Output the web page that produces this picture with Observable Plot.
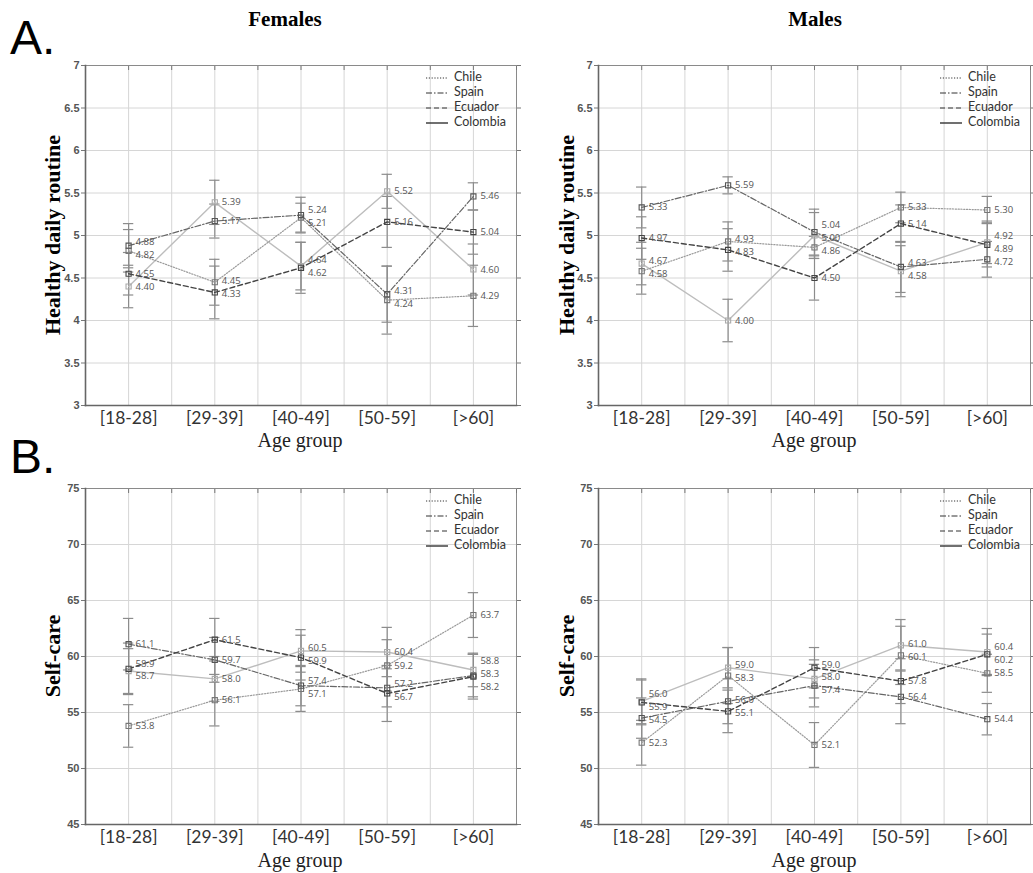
<!DOCTYPE html>
<html><head><meta charset="utf-8">
<script src="https://cdn.jsdelivr.net/npm/d3@7"></script>
<script src="https://cdn.jsdelivr.net/npm/@observablehq/plot@0.6"></script>
<style>
body{margin:0;background:#fff;}
#root{position:relative;width:1033px;height:873px;overflow:hidden;}
.abs{position:absolute;white-space:nowrap;}
.big{font-family:"Liberation Sans",Arial,sans-serif;font-size:48px;color:#000;line-height:1;}
.title{font-family:"Liberation Serif","Times New Roman",serif;font-weight:bold;font-size:21px;color:#000;transform:translateX(-50%);}
.ylab{font-family:"Liberation Serif","Times New Roman",serif;font-weight:bold;font-size:22px;color:#000;transform:translate(-50%,-50%) rotate(-90deg);}
.xlab{font-family:"Liberation Serif","Times New Roman",serif;font-size:20px;line-height:1;color:#222;transform:translateX(-50%);}
.leg{font-family:Lato,"Open Sans",sans-serif;font-size:12.5px;color:#333;}
svg.plot{position:absolute;}
</style></head>
<body><div id="root"></div>
<script>
// ---------- data ----------
const ages = ["[18-28]", "[29-39]", "[40-49]", "[50-59]", "[>60]"];
const countries = ["Chile", "Spain", "Ecuador", "Colombia"];

// A. Healthy daily routine – Females
const fRoutineChile    = [4.82, 4.45, 5.21, 4.24, 4.29];
const fRoutineSpain    = [4.88, 5.17, 5.24, 4.31, 5.46];
const fRoutineEcuador  = [4.55, 4.33, 4.62, 5.16, 5.04];
const fRoutineColombia = [4.40, 5.39, 4.64, 5.52, 4.60];
const fRoutineChileErr    = [0.25, 0.27, 0.17, 0.40, 0.36];
const fRoutineSpainErr    = [0.26, 0.20, 0.21, 0.33, 0.16];
const fRoutineEcuadorErr  = [0.25, 0.31, 0.30, 0.30, 0.26];
const fRoutineColombiaErr = [0.25, 0.26, 0.28, 0.20, 0.30];

// A. Healthy daily routine – Males
const mRoutineChile    = [4.58, 4.93, 4.86, 5.33, 5.30];
const mRoutineSpain    = [5.33, 5.59, 5.04, 4.63, 4.72];
const mRoutineEcuador  = [4.97, 4.83, 4.50, 5.14, 4.89];
const mRoutineColombia = [4.67, 4.00, 5.00, 4.58, 4.92];
const mRoutineChileErr    = [0.27, 0.23, 0.13, 0.18, 0.16];
const mRoutineSpainErr    = [0.24, 0.10, 0.27, 0.30, 0.21];
const mRoutineEcuadorErr  = [0.25, 0.25, 0.26, 0.22, 0.26];
const mRoutineColombiaErr = [0.25, 0.25, 0.27, 0.30, 0.25];

// B. Self-care – Females
const fSelfChile    = [53.8, 56.1, 57.1, 59.2, 63.7];
const fSelfSpain    = [61.1, 59.7, 57.4, 57.2, 58.3];
const fSelfEcuador  = [58.9, 61.5, 59.9, 56.7, 58.2];
const fSelfColombia = [58.7, 58.0, 60.5, 60.4, 58.8];
const fSelfChileErr    = [1.9, 2.3, 2.0, 2.3, 2.0];
const fSelfSpainErr    = [2.3, 2.0, 1.8, 1.7, 1.9];
const fSelfEcuadorErr  = [2.3, 1.9, 2.0, 2.5, 2.0];
const fSelfColombiaErr = [2.0, 2.0, 1.9, 2.2, 1.5];

// B. Self-care – Males
const mSelfChile    = [52.3, 58.3, 52.1, 60.1, 58.5];
const mSelfSpain    = [54.5, 56.0, 57.4, 56.4, 54.4];
const mSelfEcuador  = [55.9, 55.1, 59.0, 57.8, 60.2];
const mSelfColombia = [56.0, 59.0, 58.0, 61.0, 60.4];
const mSelfChileErr    = [2.0, 2.5, 2.0, 2.6, 1.7];
const mSelfSpainErr    = [1.8, 2.0, 1.9, 2.4, 1.4];
const mSelfEcuadorErr  = [2.0, 1.9, 1.8, 2.0, 1.8];
const mSelfColombiaErr = [2.0, 1.8, 1.7, 2.3, 2.1];

const routineTicks = [3, 3.5, 4, 4.5, 5, 5.5, 6, 6.5, 7];
const selfTicks = [45, 50, 55, 60, 65, 70, 75];

// ---------- styles per country ----------
const styles = {
  Chile:    {stroke: "#9a9a9a", dash: "1.2,1.6", width: 1.2, marker: "#777"},
  Spain:    {stroke: "#666",    dash: "6,2,1.5,2", width: 1.2, marker: "#555"},
  Ecuador:  {stroke: "#444",    dash: "5,3", width: 1.4, marker: "#444"},
  Colombia: {stroke: "#bdbdbd", dash: null, width: 1.4, marker: "#aaa"}
};

const PLOT_H = 340; // inner plot height in px (same for all panels)

function build(values, errs, span) {
  const rows = [];
  countries.forEach((c, k) => {
    values[k].forEach((v, i) => {
      rows.push({country: c, i, age: ages[i], v, lo: v - errs[k][i], hi: v + errs[k][i], labelY: v});
    });
  });
  // nudge value labels apart where they would sit on top of each other
  const ppu = PLOT_H / span, gap = 13;
  for (let i = 0; i < ages.length; i++) {
    const g = rows.filter(d => d.i === i).sort((a, b) => b.v - a.v);
    const px = g.map(d => -d.v * ppu);
    for (let iter = 0; iter < 60; iter++) {
      let moved = false;
      for (let j = 1; j < g.length; j++) {
        const diff = px[j] - px[j - 1];
        if (diff < gap - 0.01) {
          const push = (gap - diff) / 2;
          px[j - 1] -= push; px[j] += push; moved = true;
        }
      }
      if (!moved) break;
    }
    g.forEach((d, j) => { d.labelY = -px[j] / ppu; });
  }
  return rows;
}

const root = document.getElementById("root");

function panel({rows, ticks, digits, left, top, width, height, mL, mR}) {
  const half = d3.range(-0.5, 4.51, 0.5);
  const marks = [
    Plot.gridX(half, {stroke: "#d6d6d6", strokeOpacity: 1}),
    Plot.gridY(ticks, {stroke: "#d6d6d6", strokeOpacity: 1}),
    Plot.frame({stroke: "#8a8a8a"}),
    Plot.axisY(ticks, {anchor: "left", tickSize: 4, tickPadding: 2, stroke: "#777", fill: "#555",
      fontSize: 11, fontWeight: "bold", label: null, tickFormat: d => String(d)}),
    Plot.axisY(ticks, {anchor: "right", tickSize: 4, tickFormat: () => "", stroke: "#777", label: null}),
    Plot.axisX(half, {anchor: "top", tickSize: -4, tickFormat: () => "", stroke: "#777", label: null}),
    Plot.axisX(d3.range(ages.length), {anchor: "bottom", tickSize: 0, tickPadding: 6,
      fontSize: 17.5, fill: "#333", label: null, tickFormat: i => ages[i],
      fontFamily: "Lato, 'Open Sans', sans-serif"}),
    // error bars
    Plot.ruleX(rows, {x: "i", y1: "lo", y2: "hi", stroke: "#8c8c8c", strokeWidth: 1.2}),
    Plot.ruleY(rows, {y: "hi", x1: d => d.i - 0.06, x2: d => d.i + 0.06, stroke: "#8c8c8c", strokeWidth: 1.2}),
    Plot.ruleY(rows, {y: "lo", x1: d => d.i - 0.06, x2: d => d.i + 0.06, stroke: "#8c8c8c", strokeWidth: 1.2})
  ];
  for (const c of ["Colombia", "Chile", "Spain", "Ecuador"]) {
    const s = styles[c];
    marks.push(Plot.line(rows.filter(d => d.country === c), {x: "i", y: "v", stroke: s.stroke,
      strokeWidth: s.width, strokeDasharray: s.dash || undefined}));
  }
  for (const c of ["Colombia", "Chile", "Spain", "Ecuador"]) {
    const s = styles[c];
    marks.push(Plot.dot(rows.filter(d => d.country === c), {x: "i", y: "v", symbol: "square", r: 2.9,
      stroke: s.marker, strokeWidth: 1.1, fill: "none"}));
  }
  marks.push(Plot.text(rows, {x: "i", y: "labelY", text: d => d.v.toFixed(digits), dx: 7, textAnchor: "start",
    fontSize: 9.5, fill: "#555", fontFamily: "'Open Sans', Lato, sans-serif"}));
  // left & bottom axis lines (darker)
  marks.push(Plot.frame({anchor: "left", stroke: "#666", strokeWidth: 1.6}));
  marks.push(Plot.frame({anchor: "bottom", stroke: "#666", strokeWidth: 1.6}));

  const svg = Plot.plot({
    width, height, marginLeft: mL, marginRight: mR, marginTop: 15, marginBottom: 40,
    style: {fontFamily: "'Liberation Sans', Arial, sans-serif", fontSize: "11px", background: "transparent", overflow: "visible"},
    x: {domain: [-0.5, 4.5], axis: null},
    y: {domain: [ticks[0], ticks[ticks.length - 1]], axis: null},
    marks
  });
  svg.classList.add("plot");
  svg.style.left = left + "px";
  svg.style.top = top + "px";
  root.appendChild(svg);
}

panel({rows: build([fRoutineChile, fRoutineSpain, fRoutineEcuador, fRoutineColombia],
  [fRoutineChileErr, fRoutineSpainErr, fRoutineEcuadorErr, fRoutineColombiaErr], 4),
  ticks: routineTicks, digits: 2, left: 0, top: 50, width: 524, height: 395, mL: 85, mR: 8});
panel({rows: build([mRoutineChile, mRoutineSpain, mRoutineEcuador, mRoutineColombia],
  [mRoutineChileErr, mRoutineSpainErr, mRoutineEcuadorErr, mRoutineColombiaErr], 4),
  ticks: routineTicks, digits: 2, left: 520, top: 50, width: 513, height: 395, mL: 78, mR: 3});
panel({rows: build([fSelfChile, fSelfSpain, fSelfEcuador, fSelfColombia],
  [fSelfChileErr, fSelfSpainErr, fSelfEcuadorErr, fSelfColombiaErr], 30),
  ticks: selfTicks, digits: 1, left: 0, top: 473, width: 524, height: 391, mL: 85, mR: 8});
panel({rows: build([mSelfChile, mSelfSpain, mSelfEcuador, mSelfColombia],
  [mSelfChileErr, mSelfSpainErr, mSelfEcuadorErr, mSelfColombiaErr], 30),
  ticks: selfTicks, digits: 1, left: 520, top: 473, width: 513, height: 391, mL: 78, mR: 3});

// ---------- text overlays ----------
function addText(cls, text, x, y) {
  const d = document.createElement("div");
  d.className = "abs " + cls;
  d.textContent = text;
  d.style.left = x + "px";
  d.style.top = y + "px";
  root.appendChild(d);
  return d;
}
addText("big", "A.", 10, 14);
addText("big", "B.", 10, 433);
addText("title", "Females", 285, 7);
addText("title", "Males", 815, 7);
addText("ylab", "Healthy daily routine", 53, 235);
addText("ylab", "Healthy daily routine", 567, 235);
addText("ylab", "Self-care", 53, 656);
addText("ylab", "Self-care", 567, 656);
addText("xlab", "Age group", 300, 430);
addText("xlab", "Age group", 814, 430);
addText("xlab", "Age group", 300, 850);
addText("xlab", "Age group", 814, 850);

// legends
function legend(frameRight, frameTop) {
  countries.forEach((c, k) => {
    const s = styles[c];
    const y = frameTop + 13 + k * 15;
    const ns = "http://www.w3.org/2000/svg";
    const sv = document.createElementNS(ns, "svg");
    sv.setAttribute("width", 24); sv.setAttribute("height", 6);
    sv.style.position = "absolute";
    sv.style.left = (frameRight - 90) + "px";
    sv.style.top = (y - 3) + "px";
    const ln = document.createElementNS(ns, "line");
    ln.setAttribute("x1", 0); ln.setAttribute("x2", 22); ln.setAttribute("y1", 3); ln.setAttribute("y2", 3);
    ln.setAttribute("stroke", "#333");
    ln.setAttribute("stroke-width", c === "Colombia" ? 1.4 : 1);
    if (s.dash) ln.setAttribute("stroke-dasharray", s.dash);
    sv.appendChild(ln);
    root.appendChild(sv);
    addText("leg", c, frameRight - 62, y - 9);
  });
}
legend(516, 65);
legend(1030, 65);
legend(516, 488);
legend(1030, 488);
</script>
</body></html>
